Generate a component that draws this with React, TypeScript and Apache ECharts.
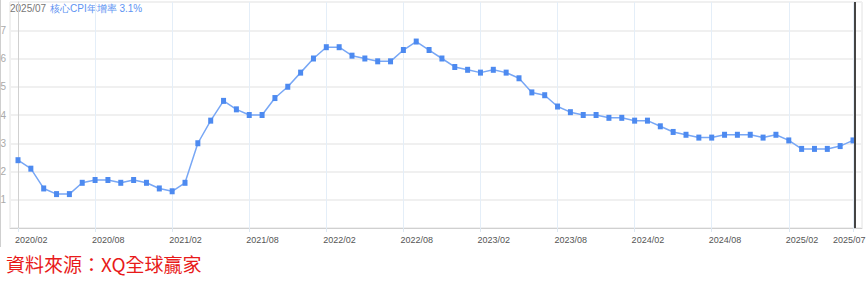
import React, { useEffect, useRef } from 'react';
import * as echarts from 'echarts';

const months: string[] = [
  '2020/02', '2020/03', '2020/04', '2020/05', '2020/06', '2020/07', '2020/08', '2020/09', '2020/10', '2020/11', '2020/12',
  '2021/01', '2021/02', '2021/03', '2021/04', '2021/05', '2021/06', '2021/07', '2021/08', '2021/09', '2021/10', '2021/11', '2021/12',
  '2022/01', '2022/02', '2022/03', '2022/04', '2022/05', '2022/06', '2022/07', '2022/08', '2022/09', '2022/10', '2022/11', '2022/12',
  '2023/01', '2023/02', '2023/03', '2023/04', '2023/05', '2023/06', '2023/07', '2023/08', '2023/09', '2023/10', '2023/11', '2023/12',
  '2024/01', '2024/02', '2024/03', '2024/04', '2024/05', '2024/06', '2024/07', '2024/08', '2024/09', '2024/10', '2024/11', '2024/12',
  '2025/01', '2025/02', '2025/03', '2025/04', '2025/05', '2025/06', '2025/07',
];

const coreCpi: number[] = [
  2.4, 2.1, 1.4, 1.2, 1.2, 1.6, 1.7, 1.7, 1.6, 1.7, 1.6,
  1.4, 1.3, 1.6, 3.0, 3.8, 4.5, 4.2, 4.0, 4.0, 4.6, 5.0, 5.5,
  6.0, 6.4, 6.4, 6.1, 6.0, 5.9, 5.9, 6.3, 6.6, 6.3, 6.0, 5.7,
  5.6, 5.5, 5.6, 5.5, 5.3, 4.8, 4.7, 4.3, 4.1, 4.0, 4.0, 3.9,
  3.9, 3.8, 3.8, 3.6, 3.4, 3.3, 3.2, 3.2, 3.3, 3.3, 3.3, 3.2,
  3.3, 3.1, 2.8, 2.8, 2.8, 2.9, 3.1,
];

const tickLabels: string[] = [
  '2020/02', '2020/08', '2021/02', '2021/08', '2022/02', '2022/08',
  '2023/02', '2023/08', '2024/02', '2024/08', '2025/02',
];
const lastLabel = '2025/07';
const seriesName = '核心CPI年增率';
const sourceText = '資料來源：XQ全球贏家';

export default function App() {
  const ref = useRef<HTMLDivElement>(null);
  useEffect(() => {
    const chart = echarts.init(ref.current!, null, { renderer: 'svg' });
    const idx = tickLabels.map((l) => months.indexOf(l));
    const lastIdx = months.indexOf(lastLabel);
    const lastVal = coreCpi[coreCpi.length - 1];
    const font = '"Liberation Sans", Arial, sans-serif';
    const xMin = -0.623;
    const xMax = 65.7;
    const labelBase = { margin: 7, align: 'center', color: '#555', fontSize: 9, fontFamily: font };
    chart.setOption({
      animation: false,
      grid: {
        left: 10, top: 2, width: 852, height: 226,
        show: true, borderColor: '#e2e2e2', borderWidth: 1,
        containLabel: false, outerBoundsMode: 'none',
      },
      xAxis: [
        {
          type: 'value', min: xMin, max: xMax,
          axisLine: { show: true, onZero: false, lineStyle: { color: '#d0d0d0', width: 1 } },
          axisTick: { show: true, length: 4, customValues: idx.concat([lastIdx]), lineStyle: { color: '#dde8f2' } },
          splitLine: { show: true, lineStyle: { color: '#e4eef8', width: 1 } },
          axisLabel: {
            ...labelBase,
            customValues: idx,
            formatter: (v: number) => `{t|${months[Math.round(v)] ?? ''}}`,
            rich: { t: { width: 6, align: 'left', color: '#555', fontSize: 9, fontFamily: font } },
          },
        },
        {
          type: 'value', min: xMin, max: xMax, position: 'bottom', offset: 0,
          axisLine: { show: false }, axisTick: { show: false }, splitLine: { show: false },
          axisLabel: {
            ...labelBase,
            customValues: [lastIdx],
            formatter: (v: number) => `{e|${months[Math.round(v)] ?? ''}}`,
            rich: { e: { width: 40, align: 'left', color: '#555', fontSize: 9, fontFamily: font } },
          },
        },
      ],
      yAxis: {
        type: 'value', min: 0, max: 8, interval: 1,
        axisLine: { show: true, lineStyle: { color: '#d0d0d0' } },
        axisTick: { show: false },
        splitLine: { show: true, lineStyle: { color: '#f0f0f0', width: 2 } },
        axisLabel: {
          margin: 4, color: '#aaa', fontSize: 10, fontFamily: font,
          formatter: (v: number) => (v > 0 && v < 8 ? String(v) : ''),
        },
      },
      series: [
        {
          type: 'line', name: seriesName, xAxisIndex: 0,
          data: coreCpi.map((v, i) => [i, v]),
          symbol: 'rect', symbolSize: [5, 6],
          itemStyle: { color: '#4d8af0' },
          lineStyle: { color: '#78a7f5', width: 1.5 },
          markLine: {
            silent: true, symbol: 'none', label: { show: false },
            lineStyle: { color: '#444', width: 2, type: 'solid' },
            data: [{ xAxis: lastIdx + 0.15 }],
          },
        },
      ],
      graphic: [
        { type: 'line', shape: { x1: 0.5, y1: 0, x2: 0.5, y2: 247 }, style: { stroke: '#cfcfcf', lineWidth: 1 } },
        {
          type: 'text', x: 10, y: 8,
          style: { text: lastLabel, fill: '#777', fontSize: 10, fontFamily: font, verticalAlign: 'middle' },
        },
        {
          type: 'text', x: 50, y: 8,
          style: { text: `${seriesName} ${lastVal.toFixed(1)}%`, fill: '#5d93f2', fontSize: 10, fontFamily: font, verticalAlign: 'middle' },
        },
        {
          type: 'text', x: 6, y: 263,
          style: { text: sourceText, fill: '#e81a1a', fontSize: 19, fontFamily: '"Noto Sans CJK TC", serif', verticalAlign: 'middle' },
        },
      ],
    });
    return () => chart.dispose();
  }, []);
  return <div ref={ref} style={{ position: 'absolute', left: 0, top: 0, width: 866, height: 291 }} />;
}
